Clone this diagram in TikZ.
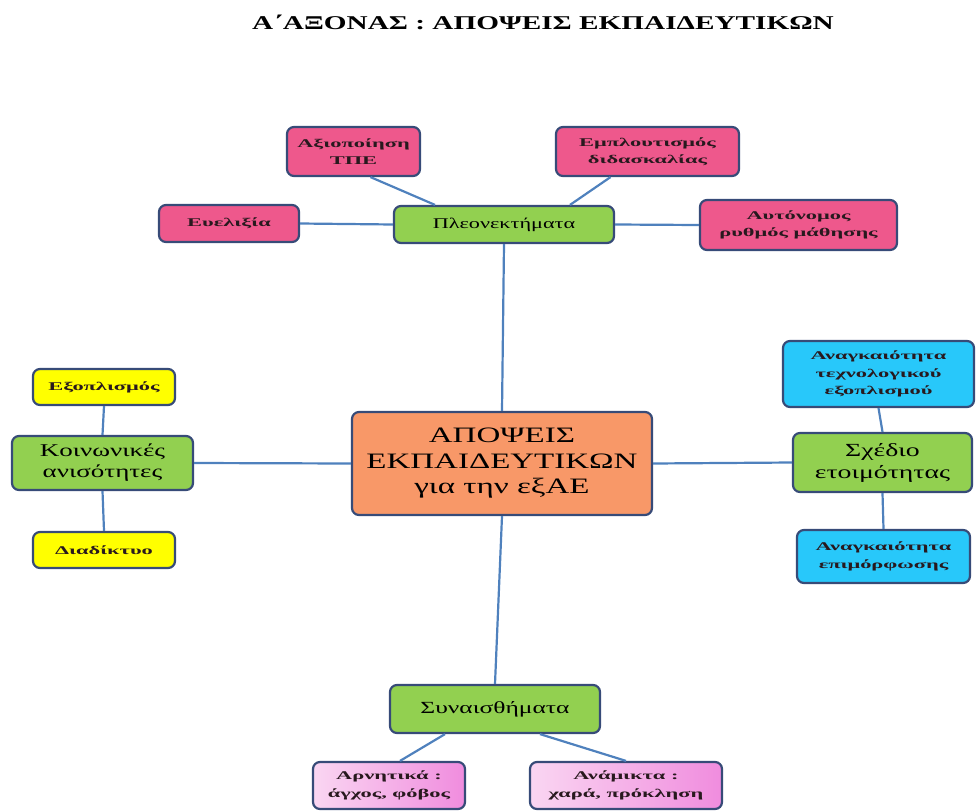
\documentclass[tikz,border=0pt]{standalone}
\usepackage{fontspec}
\setmainfont{Liberation Serif}[FakeStretch=1.5]
\newfontfamily\widefont{Liberation Serif}[FakeStretch=1.9]
\definecolor{bordc}{RGB}{55,75,120}
\definecolor{linec}{RGB}{79,129,189}
\definecolor{pinkc}{RGB}{238,88,140}
\definecolor{greenc}{RGB}{146,208,80}
\definecolor{orangec}{RGB}{248,152,104}
\definecolor{yellowc}{RGB}{255,255,0}
\definecolor{cyanc}{RGB}{40,200,250}
\definecolor{lpinkL}{RGB}{250,214,242}
\definecolor{lpinkR}{RGB}{240,140,222}
\definecolor{txtc}{RGB}{40,25,30}
\tikzset{
  box/.style={draw=bordc, line width=2.2pt, rounded corners=7pt, align=center, inner sep=2pt},
  smalltext/.style={font=\widefont\bfseries\fontsize{11.8}{17.5}\selectfont, text=txtc},
  pinkbox/.style={box, fill=pinkc, smalltext},
  greenbox/.style={box, fill=greenc},
  yellowbox/.style={box, fill=yellowc, smalltext},
  cyanbox/.style={box, fill=cyanc, smalltext},
  gradbox/.style={box, left color=lpinkL, right color=lpinkR, smalltext},
  conn/.style={draw=linec, line width=2.2pt}
}
\begin{document}
\begin{tikzpicture}[x=1pt,y=-1pt]
\useasboundingbox (0,0) rectangle (977,811);
\node (title) at (543,22) {\fontsize{19.5}{22}\selectfont\bfseries Α΄ΑΞΟΝΑΣ : ΑΠΟΨΕΙΣ ΕΚΠΑΙΔΕΥΤΙΚΩΝ};
% nodes
\node[pinkbox, minimum width=133pt, minimum height=49pt] (ptpe) at (353.5,151.5) {Αξιοποίηση\\ΤΠΕ};
\node[pinkbox, minimum width=183pt, minimum height=49pt] (empl) at (647.5,151.5) {Εμπλουτισμός\\διδασκαλίας};
\node[pinkbox, minimum width=140pt, minimum height=37pt] (evel) at (229,223.5) {Ευελιξία};
\node[greenbox, minimum width=220pt, minimum height=37pt, font=\fontsize{14.8}{17}\selectfont] (pleon) at (504,224.5) {Πλεονεκτήματα};
\node[pinkbox, minimum width=197pt, minimum height=50pt] (auto) at (798.5,225) {Αυτόνομος\\ρυθμός μάθησης};
\node[box, fill=orangec, minimum width=300pt, minimum height=103pt, font=\fontsize{22}{25.5}\selectfont] (center) at (502,463.5) {ΑΠΟΨΕΙΣ\\ΕΚΠΑΙΔΕΥΤΙΚΩΝ\\για την εξΑΕ};
\node[yellowbox, minimum width=142pt, minimum height=36pt] (exop) at (104,387) {Εξοπλισμός};
\node[greenbox, minimum width=181pt, minimum height=54pt, font=\fontsize{18}{21}\selectfont] (koin) at (102.5,463) {Κοινωνικές\\ανισότητες};
\node[yellowbox, minimum width=142pt, minimum height=36pt] (diad) at (104,550) {Διαδίκτυο};
\node[cyanbox, minimum width=191pt, minimum height=66pt] (anag1) at (878.5,374) {Αναγκαιότητα\\τεχνολογικού\\εξοπλισμού};
\node[greenbox, minimum width=179pt, minimum height=59pt, font=\fontsize{18.5}{22}\selectfont] (sxed) at (882.5,462.5) {Σχέδιο\\ετοιμότητας};
\node[cyanbox, minimum width=173pt, minimum height=53pt] (anag2) at (883.5,556.5) {Αναγκαιότητα\\επιμόρφωσης};
\node[greenbox, minimum width=210pt, minimum height=48pt, font=\fontsize{17}{19}\selectfont] (syna) at (495,709) {Συναισθήματα};
\node[gradbox, minimum width=152pt, minimum height=47pt] (arn) at (389,785.5) {Αρνητικά :\\άγχος, φόβος};
\node[gradbox, minimum width=192pt, minimum height=47pt] (anam) at (626,785.5) {Ανάμικτα :\\χαρά, πρόκληση};
% connectors
\path[conn] (pleon.south) -- (center.north);
\path[conn] (center.west) -- (koin.east);
\path[conn] (center.east) -- (sxed.west);
\path[conn] (center.south) -- (syna.north);
\path[conn] ([xshift=17pt]ptpe.south) -- ([xshift=-69pt]pleon.north);
\path[conn] ([xshift=-37pt]empl.south) -- ([xshift=66pt]pleon.north);
\path[conn] (evel.east) -- (pleon.west);
\path[conn] (pleon.east) -- (auto.west);
\path[conn] (exop.south) -- (koin.north);
\path[conn] (koin.south) -- (diad.north);
\path[conn] (anag1.south) -- (sxed.north);
\path[conn] (sxed.south) -- (anag2.north);
\path[conn] ([xshift=-50pt]syna.south) -- ([xshift=11pt]arn.north);
\path[conn] ([xshift=45pt]syna.south) -- (anam.north);
\end{tikzpicture}
\end{document}
